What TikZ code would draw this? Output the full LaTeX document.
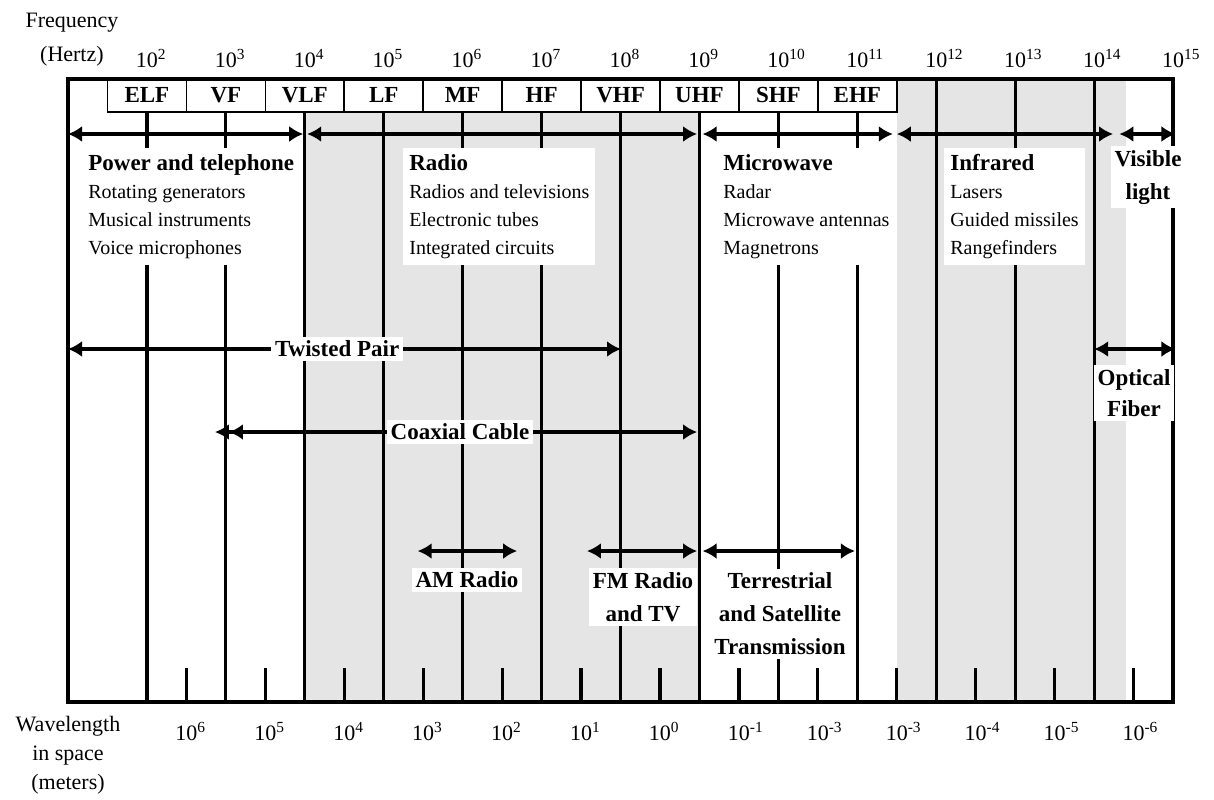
\documentclass[tikz,border=0pt]{standalone}
\usepackage{fontspec}
\setmainfont{Liberation Serif}
\usepackage{tikz}
\usetikzlibrary{arrows.meta}

\tikzset{
  >={Latex[length=7pt,width=8pt]},
  band/.style={draw, fill=white, line width=0.8pt, minimum width=39.465pt,
    minimum height=16.5pt, inner sep=0pt, text height=1.45ex, text depth=0pt,
    font=\bfseries\fontsize{11.5}{13}\selectfont},
  apps/.style={fill=white, align=left, anchor=north west, inner sep=3pt,
    font=\fontsize{10}{14}\selectfont},
  tag/.style={fill=white, align=center, inner sep=2pt,
    font=\bfseries\fontsize{11.5}{16.5}\selectfont},
  scalelbl/.style={font=\fontsize{11}{13}\selectfont, anchor=base, inner sep=0pt},
  span/.style={<->, line width=1.6pt},
  dec/.style={line width=1.6pt},
}
\newcommand{\ttl}[1]{{\bfseries\fontsize{11.5}{14}\selectfont #1}}

\begin{document}
\begin{tikzpicture}[x=39.465pt, y=-0.5pt]
		\useasboundingbox (0.1385,0) rectangle (15.519,799);

		% shaded bands
		\fill[gray!20] (4,79) rectangle (9,702);
		\fill[gray!20] (11.5,79) rectangle (14.4,702);

		% decade lines and half-decade ticks
		\foreach \k in {2,...,14}
			\draw[dec] (\k,79) -- (\k,702);
		\foreach \k in {2.5,3.5,...,14.5}
			\draw[dec] (\k,668) -- (\k,702);

		% band names
		\foreach \k/\b in {2/ELF,3/VF,4/VLF,5/LF,6/MF,7/HF,8/VHF,9/UHF,10/SHF,11/EHF}
			\node[band] (\b) at (\k,95.5) {\b};

		\draw[line width=2pt] (1,79) rectangle (15,702);

		% axis labels
		\node[font=\fontsize{11}{17}\selectfont, align=center, anchor=north, inner sep=0pt] (freq) at (1.05,13) {Frequency\\ (Hertz)};
		\foreach \k in {2,...,15}
			\node[scalelbl] (f\k) at (\k,67) {10\rlap{\textsuperscript{\k}}};
		\node[font=\fontsize{11}{14.5}\selectfont, align=center, anchor=north, inner sep=0pt] (wave) at (1,716) {Wavelength\\ in space\\ (meters)};
		\foreach \k/\e [count=\i] in {2.5/6,3.5/5,4.5/4,5.5/3,6.5/2,7.5/1,8.5/0,9.5/-1,10.5/-3,11.5/-3,12.5/-4,13.5/-5,14.5/-6}
			\node[scalelbl] (w\i) at (\k,740) {10\rlap{\textsuperscript{\e}}};

		% ranges
		\foreach \a/\b/\y [count=\i] in {1/3.98/134, 4.03/8.97/134, 9.04/11.45/134, 11.5/14.24/134, 14.32/15.03/134,
				1/8.006/349, 14/15.03/349, 5.43/6.69/551, 7.575/8.97/551, 9.04/10.97/551}
		{
			\coordinate (s\i-l) at (\a,\y);
			\coordinate (s\i-r) at (\b,\y);
			\draw[span] (s\i-l) -- (s\i-r);
		}
		\coordinate (cx-l) at (2.862,432);
		\coordinate (cx-r) at (8.97,432);
		\draw[<<->, line width=1.6pt] (cx-l) -- (cx-r);

		\node[apps] (power) at (1.177,148) {\ttl{Power and telephone}\\ Rotating generators\\ Musical instruments\\ Voice microphones};
		\node[apps] (radio) at (5.244,148) {\ttl{Radio}\\ Radios and televisions\\ Electronic tubes\\ Integrated circuits};
		\node[apps] (micro) at (9.222,148) {\ttl{Microwave}\\ Radar\\ Microwave antennas\\ Magnetrons};
		\node[apps] (infra) at (12.098,148) {\ttl{Infrared}\\ Lasers\\ Guided missiles\\ Rangefinders};
		\node[tag, anchor=north] (visible) at (14.683,146) {Visible\\ light};

		\node[tag] (twisted) at (4.41,349) {Twisted Pair};
		\node[tag] (coax) at (5.966,432) {Coaxial Cable};
		\node[tag, font=\bfseries\fontsize{11.5}{15.5}\selectfont] (optical) at (14.506,393) {Optical\\ Fiber};
		\node[tag] (am) at (6.055,580) {AM Radio};
		\node[tag] (fm) at (8.285,597) {FM Radio\\ and TV};
		\node[tag] (terr) at (10.02,614) {Terrestrial\\ and Satellite\\ Transmission};
\end{tikzpicture}
\end{document}
